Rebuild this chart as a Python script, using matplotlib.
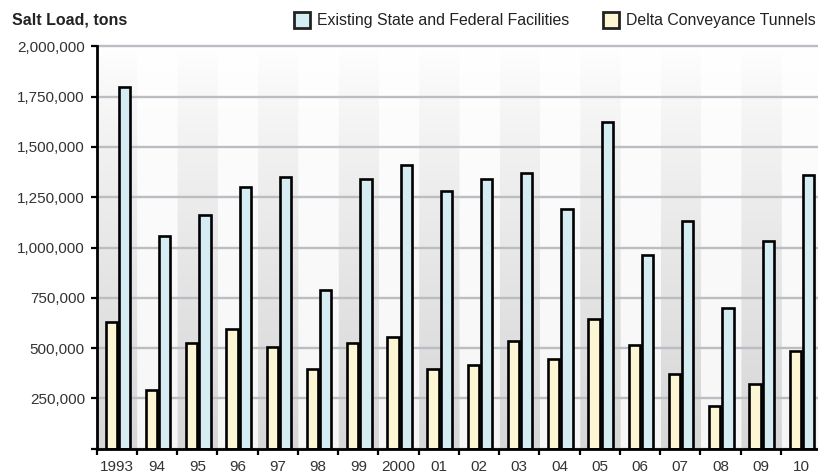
import numpy as np
import matplotlib.pyplot as plt
from matplotlib.patches import Rectangle
from matplotlib.ticker import FuncFormatter

years = ["1993", "94", "95", "96", "97", "98", "99", "2000", "01",
         "02", "03", "04", "05", "06", "07", "08", "09", "10"]
# salt load, tons
existing = [1800000, 1055000, 1160000, 1300000, 1350000, 790000, 1340000, 1410000, 1280000,
            1340000, 1370000, 1190000, 1625000, 965000, 1130000, 700000, 1030000, 1360000]
tunnels = [630000, 290000, 525000, 595000, 505000, 395000, 525000, 555000, 395000,
           415000, 535000, 445000, 645000, 515000, 370000, 210000, 320000, 485000]

plt.rcParams['font.family'] = ['Liberation Sans', 'DejaVu Sans']

W, H = 818, 476
fig = plt.figure(figsize=(W / 100, H / 100), dpi=100)
ax = fig.add_axes([96.7 / W, 27.4 / H, 1 - 96.7 / W, (448.6 - 46.4) / H])

n = len(years)
x = np.arange(n)
ymax = 2000000

# background: gray gradient stripes on every other year
res = 40
xs = (np.arange(n * res) + 0.5) / res
ys = np.linspace(0, 1, 200)
depth = np.where(np.floor(xs).astype(int) % 2 == 0, 0.16, 0.035)
shade = 1 - depth[None, :] * (1 - ys[:, None]) ** 0.8
img = np.dstack([shade, shade, shade])
ax.imshow(img, extent=(0, n, 0, ymax), origin='lower', aspect='auto', zorder=0)

ax.bar(x + 0.36, tunnels, 0.28, color='#fcf6d4', edgecolor='black', linewidth=1.9, zorder=3)
ax.bar(x + 0.69, existing, 0.28, color='#d6ecf3', edgecolor='black', linewidth=1.9, zorder=3)

ax.set_xlim(0, (W - 96.7) / 40.24)
ax.set_ylim(0, ymax)

ax.set_yticks(np.arange(0, ymax + 1, 250000))
ax.yaxis.set_major_formatter(FuncFormatter(lambda v, p: "" if v == 0 else f"{int(v):,}"))
ax.yaxis.grid(True, color='#bcbcc3', linewidth=1.7, zorder=1)
for gl in ax.get_ygridlines():
    gl.set_clip_on(False)
ax.tick_params(axis='y', direction='out', length=4.5, width=1.6, labelsize=11,
               labelcolor='#333333', pad=4)

ax.set_xticks(x)
ax.set_xticklabels([])
ax.set_xticks(x + 0.5, minor=True)
ax.set_xticklabels(years, minor=True)
ax.tick_params(axis='x', which='major', direction='out', length=4, width=1.6)
ax.tick_params(axis='x', which='minor', length=0, labelsize=11, labelcolor='#333333', pad=8)

for s in ['top', 'right']:
    ax.spines[s].set_visible(False)
for s in ['left', 'bottom']:
    ax.spines[s].set_linewidth(2)
    ax.spines[s].set_color('black')
    ax.spines[s].set_zorder(4)

fig.text(12 / W, 1 - 20 / H, "Salt Load, tons", fontweight='bold', fontsize=11.5,
         va='center', ha='left', color='#222222')

legend_items = [(294, "#d6ecf3", "Existing State and Federal Facilities"),
                (603, "#fcf6d4", "Delta Conveyance Tunnels")]
for px, col, label in legend_items:
    fig.add_artist(Rectangle((px / W, 1 - 28 / H), 16 / W, 16 / H, transform=fig.transFigure,
                             facecolor=col, edgecolor='#222222', linewidth=2))
    fig.text((px + 23) / W, 1 - 20 / H, label, fontsize=11.4, va='center', ha='left',
             color='#222222')

fig.savefig("out.png", dpi=100)
